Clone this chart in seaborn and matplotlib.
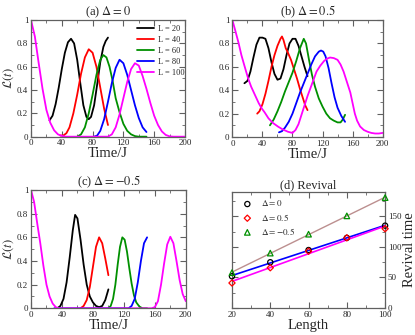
import numpy as np
import pandas as pd
import seaborn as sns
import matplotlib.pyplot as plt
from matplotlib.ticker import MultipleLocator, FuncFormatter

# ---- panel (a)  Delta = 0 ----
a_t20 = [24, 28, 32, 36, 40, 44, 48, 52, 56, 60, 64, 68, 72, 75, 78, 82, 86, 90, 94, 97, 100]
a_L20 = [0.14, 0.18, 0.28, 0.42, 0.58, 0.72, 0.81, 0.84, 0.80, 0.66, 0.46, 0.27, 0.17, 0.15, 0.17, 0.27, 0.45, 0.64, 0.77, 0.82, 0.85]
a_t40 = [38, 42, 46, 50, 55, 60, 65, 70, 75, 80, 85, 90, 95, 100]
a_L40 = [0.01, 0.01, 0.03, 0.08, 0.20, 0.36, 0.54, 0.68, 0.75, 0.72, 0.60, 0.42, 0.24, 0.10]
a_t60 = [60, 65, 70, 75, 80, 85, 90, 94, 98, 102, 106, 110, 115, 120, 125, 130, 135, 140, 150]
a_L60 = [0.0, 0.02, 0.08, 0.20, 0.36, 0.53, 0.66, 0.70, 0.68, 0.60, 0.48, 0.33, 0.21, 0.11, 0.05, 0.02, 0.005, 0.0, 0.0]
a_t80 = [82, 86, 90, 95, 100, 105, 110, 115, 120, 125, 130, 135, 140, 145, 150]
a_L80 = [0.0, 0.01, 0.05, 0.15, 0.30, 0.46, 0.59, 0.66, 0.63, 0.53, 0.40, 0.27, 0.16, 0.08, 0.04]
a_t100 = [0, 5, 10, 15, 20, 25, 30, 35, 40, 45, 60, 80, 100, 105, 110, 115, 120, 125, 130, 135,
          140, 145, 150, 155, 160, 165, 170, 175, 180, 185, 200]
a_L100 = [1.0, 0.86, 0.63, 0.41, 0.23, 0.12, 0.055, 0.02, 0.007, 0.0, 0.0, 0.0, 0.0, 0.02, 0.08, 0.19,
          0.33, 0.47, 0.58, 0.63, 0.61, 0.52, 0.41, 0.29, 0.18, 0.10, 0.045, 0.015, 0.003, 0.0, 0.0]

# ---- panel (b)  Delta = 0.5 ----
b_t20 = [16, 20, 24, 28, 32, 36, 40, 44, 48, 52, 56, 60, 64, 68, 72, 76, 80, 84, 88, 92, 96, 100]
b_L20 = [0.46, 0.48, 0.56, 0.68, 0.79, 0.85, 0.85, 0.84, 0.76, 0.64, 0.54, 0.49, 0.50, 0.58, 0.70, 0.80, 0.84, 0.84, 0.78, 0.69, 0.60, 0.52]
b_t40 = [33, 36, 40, 44, 48, 52, 56, 60, 64, 66, 68, 71, 74, 78, 82, 86, 90, 94, 97, 100]
b_L40 = [0.20, 0.22, 0.28, 0.37, 0.48, 0.60, 0.70, 0.78, 0.84, 0.86, 0.83, 0.76, 0.72, 0.66, 0.58, 0.50, 0.41, 0.33, 0.27, 0.23]
b_t60 = [50, 55, 60, 65, 70, 75, 80, 85, 90, 95, 98, 102, 106, 110, 115, 120, 125, 130, 135, 140, 144, 147, 150]
b_L60 = [0.10, 0.15, 0.22, 0.30, 0.39, 0.47, 0.55, 0.65, 0.76, 0.84, 0.80, 0.66, 0.53, 0.43, 0.33, 0.26, 0.20, 0.16, 0.14, 0.125, 0.125, 0.15, 0.19]
b_t80 = [62, 66, 70, 75, 80, 85, 90, 95, 100, 105, 110, 115, 118, 121, 124, 128, 132, 136, 140, 145, 150]
b_L80 = [0.04, 0.05, 0.08, 0.13, 0.20, 0.29, 0.38, 0.46, 0.54, 0.62, 0.69, 0.73, 0.74, 0.73, 0.69, 0.59, 0.46, 0.34, 0.25, 0.18, 0.13]
b_t100 = [0, 3, 8, 12, 16, 21, 25, 30, 35, 39, 43, 48, 54, 61, 67, 74, 80, 84, 88, 92, 96, 100, 104,
          108, 112, 117, 122, 126, 130, 135, 140, 144, 148, 152, 157, 160, 163, 166, 170, 175, 180, 185, 190, 195, 200]
b_L100 = [1.0, 0.93, 0.81, 0.70, 0.61, 0.50, 0.43, 0.36, 0.29, 0.245, 0.21, 0.16, 0.12, 0.088, 0.065, 0.045, 0.035,
          0.06, 0.11, 0.19, 0.27, 0.35, 0.42, 0.49, 0.56, 0.61, 0.65, 0.67, 0.68, 0.675, 0.66, 0.62, 0.56, 0.48,
          0.38, 0.29, 0.20, 0.14, 0.09, 0.06, 0.045, 0.035, 0.03, 0.03, 0.035]

# ---- panel (c)  Delta = -0.5 ----
c_t20 = [34, 38, 42, 46, 50, 54, 57, 60, 64, 68, 72, 76, 80, 84, 88, 92, 96, 100]
c_L20 = [0.0, 0.02, 0.08, 0.22, 0.43, 0.66, 0.79, 0.76, 0.58, 0.37, 0.20, 0.10, 0.05, 0.02, 0.01, 0.02, 0.07, 0.16]
c_t40 = [64, 68, 72, 76, 80, 84, 88, 92, 96, 100]
c_L40 = [0.0, 0.02, 0.07, 0.18, 0.35, 0.52, 0.60, 0.55, 0.42, 0.28]
c_t60 = [100, 103, 106, 109, 112, 115, 118, 121, 124, 127, 130, 133, 136, 140, 144, 150]
c_L60 = [0.0, 0.02, 0.08, 0.20, 0.37, 0.52, 0.60, 0.58, 0.48, 0.34, 0.21, 0.11, 0.05, 0.015, 0.0, 0.0]
c_t80 = [30, 126, 130, 134, 138, 142, 146, 150]
c_L80 = [0.0, 0.0, 0.02, 0.08, 0.22, 0.40, 0.55, 0.60]
c_t100 = [0, 4, 8, 12, 16, 20, 24, 28, 32, 36, 80, 120, 156, 160, 164, 168, 172, 176, 180, 184, 188, 192, 196, 200]
c_L100 = [1.0, 0.90, 0.72, 0.55, 0.36, 0.20, 0.10, 0.04, 0.01, 0.0, 0.0, 0.0, 0.0, 0.01, 0.06, 0.20, 0.38, 0.54, 0.605, 0.55, 0.40, 0.24, 0.12, 0.06]

# ---- panel (d)  revival times ----
lengths = [20, 40, 60, 80, 100]
rev_d0 = [52, 75, 95, 115, 135]
rev_d05 = [41, 66, 93, 115, 130]
rev_dm05 = [58, 90, 121, 151, 181]

sizes = ["L = 20", "L = 40", "L = 60", "L = 80", "L = 100"]
colors = ["black", "red", "#009000", "blue", "magenta"]

sns.set_theme(style="ticks")
plt.rcParams["font.family"] = ["Liberation Serif", "DejaVu Serif"]
plt.rcParams["mathtext.fontset"] = "stix"

fig = plt.figure(figsize=(4.15, 3.35), dpi=100)
ax_a = fig.add_axes([0.0747, 0.592, 0.371, 0.348])
ax_b = fig.add_axes([0.560, 0.591, 0.362, 0.349])
ax_c = fig.add_axes([0.0747, 0.0797, 0.373, 0.353])
ax_d = fig.add_axes([0.559, 0.0806, 0.369, 0.346])

frame = "#606060"
yfmt = FuncFormatter(lambda v, p: "%g" % round(v, 2))


def style(ax):
    for s in ax.spines.values():
        s.set_color(frame)
        s.set_linewidth(0.9)
    ax.tick_params(which="both", direction="in", top=True, right=True,
                   color=frame, labelsize=6.5, pad=2)
    ax.tick_params(which="major", length=4, width=0.8)
    ax.tick_params(which="minor", length=2, width=0.6)


panels = [
    (ax_a, "(a) $\\Delta = 0$", [(a_t20, a_L20), (a_t40, a_L40), (a_t60, a_L60), (a_t80, a_L80), (a_t100, a_L100)]),
    (ax_b, "(b) $\\Delta = 0.5$", [(b_t20, b_L20), (b_t40, b_L40), (b_t60, b_L60), (b_t80, b_L80), (b_t100, b_L100)]),
    (ax_c, "(c) $\\Delta = -0.5$", [(c_t20, c_L20), (c_t40, c_L40), (c_t60, c_L60), (c_t80, c_L80), (c_t100, c_L100)]),
]

for ax, title, curves in panels:
    for (tt, LL), c, lab in zip(curves, colors, sizes):
        sns.lineplot(x=tt, y=LL, ax=ax, color=c, lw=1.3, label=lab, estimator=None, sort=False)
    ax.set_xlim(0, 200)
    ax.set_ylim(0, 1)
    ax.xaxis.set_major_locator(MultipleLocator(40))
    ax.xaxis.set_minor_locator(MultipleLocator(20))
    ax.yaxis.set_major_locator(MultipleLocator(0.2))
    ax.yaxis.set_minor_locator(MultipleLocator(0.1))
    ax.yaxis.set_major_formatter(yfmt)
    ax.set_title(title, fontsize=9, pad=3)
    ax.set_xlabel("Time/J", fontsize=10.5, labelpad=0)
    ax.set_ylabel("")
    style(ax)
    if ax is not ax_a:
        ax.get_legend().remove()

ax_a.set_ylabel("$\\mathcal{L}(t)$", fontsize=9, labelpad=1)
ax_c.set_ylabel("$\\mathcal{L}(t)$", fontsize=9, labelpad=1)
ax_a.legend(loc="upper right", frameon=False, fontsize=6, handlelength=2.0,
            handletextpad=0.5, labelspacing=0.35, borderaxespad=0.2,
            bbox_to_anchor=(1.03, 1.0))

# revival panel
sns.regplot(x=lengths, y=rev_dm05, ax=ax_d, scatter=False, ci=None, color="#bc8f8f", line_kws={"lw": 1.0})
sns.regplot(x=lengths, y=rev_d0, ax=ax_d, scatter=False, ci=None, color="blue", line_kws={"lw": 1.2})
sns.regplot(x=lengths, y=rev_d05, ax=ax_d, scatter=False, ci=None, color="magenta", line_kws={"lw": 1.2})
sns.scatterplot(x=lengths, y=rev_d0, ax=ax_d, marker="o", s=14, facecolor="none", edgecolor="black",
                linewidth=0.9, label="$\\Delta = 0$", clip_on=False, zorder=5)
sns.scatterplot(x=lengths, y=rev_d05, ax=ax_d, marker="D", s=10, facecolor="none", edgecolor="red",
                linewidth=0.9, label="$\\Delta = 0.5$", clip_on=False, zorder=5)
sns.scatterplot(x=lengths, y=rev_dm05, ax=ax_d, marker="^", s=16, facecolor="none", edgecolor="#009000",
                linewidth=0.9, label="$\\Delta = -0.5$", clip_on=False, zorder=5)
ax_d.set_xlim(20, 100)
ax_d.set_ylim(0, 190)
ax_d.xaxis.set_major_locator(MultipleLocator(20))
ax_d.xaxis.set_minor_locator(MultipleLocator(10))
ax_d.yaxis.set_major_locator(MultipleLocator(50))
ax_d.yaxis.set_minor_locator(MultipleLocator(25))
style(ax_d)
ax_d.tick_params(labelleft=False, labelright=True)
ax_d.yaxis.set_label_position("right")
ax_d.set_ylabel("Revival time", fontsize=10.5, labelpad=1)
ax_d.set_xlabel("Length", fontsize=10.5, labelpad=0)
ax_d.set_title("(d) Revival", fontsize=9, pad=3)
ax_d.legend(loc="upper left", frameon=False, fontsize=6.5, handletextpad=0.5,
            labelspacing=0.35, borderaxespad=0.3)

fig.savefig("out.png", dpi=100)
